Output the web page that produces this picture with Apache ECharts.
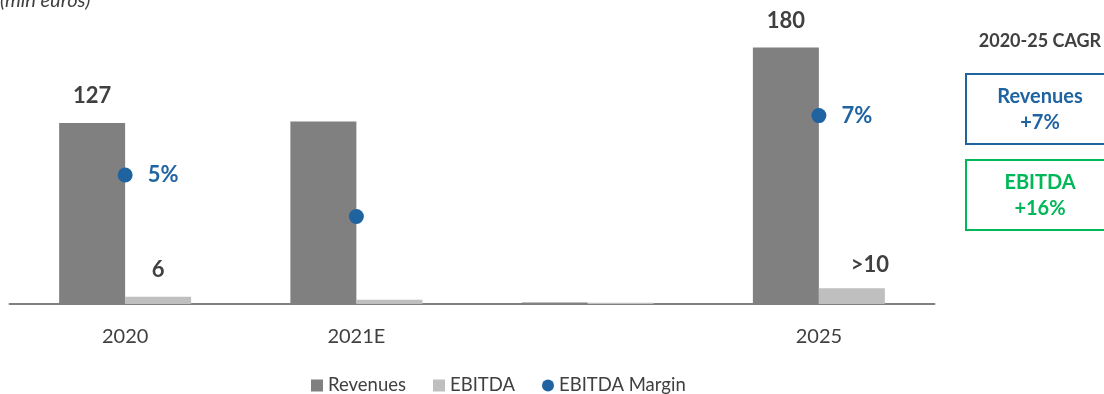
<!DOCTYPE html>
<html>
<head>
<meta charset="utf-8">
<script src="https://cdn.jsdelivr.net/npm/echarts@6/dist/echarts.min.js"></script>
<style>
  html, body { margin: 0; padding: 0; background: #fff; }
  #chart { width: 1104px; height: 394px; }
</style>
</head>
<body>
<div id="chart"></div>
<script>
// 类目和数值
const categories = ['2020', '2021E', '', '2025']
const revenues = [127, 128, 1, 180]
const ebitda = [5, 3, 0.8, 11]
const ebitdaMargin = [5, 3.6, null, 7]

const revenueLabels = ['127', '', '', '180']
const ebitdaLabels = ['6', '', '', '>10']
const marginLabels = ['5%', '', '', '7%']

const cagrTitle = '2020-25 CAGR'
const cagrRevenues = ['Revenues', '+7%']
const cagrEbitda = ['EBITDA', '+16%']

const font = 'Lato, "Open Sans", sans-serif'
const grey = '#404040'
const blue = '#1F63A0'
const green = '#00B858'

const chart = echarts.init(document.getElementById('chart'))

const labelStyle = {
  show: true,
  position: 'top',
  distance: 16,
  fontFamily: font,
  fontWeight: 'bold',
  fontSize: 22,
  color: grey
}

chart.setOption({
  animation: false,
  textStyle: { fontFamily: font },
  grid: {
    left: 9.5,
    right: 169.5,
    top: 18.9,
    bottom: 90
  },
  legend: {
    left: 311,
    top: 376,
    padding: 0,
    itemWidth: 12,
    itemHeight: 12,
    itemGap: 27,
    textStyle: { fontFamily: font, fontSize: 18.5, color: grey },
    data: [
      { name: 'Revenues', icon: 'rect' },
      { name: 'EBITDA', icon: 'rect' },
      { name: 'EBITDA Margin', icon: 'circle', itemStyle: { opacity: 1 } }
    ]
  },
  xAxis: {
    type: 'category',
    data: categories,
    axisTick: { show: false },
    axisLine: {
      lineStyle: { color: '#808080', width: 2 }
    },
    axisLabel: {
      margin: 23,
      fontSize: 20,
      color: grey
    }
  },
  yAxis: [
    { type: 'value', min: 0, max: 200, show: false },
    { type: 'value', min: 0.65, max: 10.26, show: false }
  ],
  series: [
    {
      name: 'Revenues',
      type: 'bar',
      barWidth: 66,
      barGap: '0%',
      itemStyle: { color: '#808080' },
      data: revenues.map((v, i) => ({
        value: v,
        label: { ...labelStyle, show: revenueLabels[i] !== '', formatter: revenueLabels[i] }
      }))
    },
    {
      name: 'EBITDA',
      type: 'bar',
      barWidth: 66,
      itemStyle: { color: '#BFBFBF' },
      data: ebitda.map((v, i) => ({
        value: v,
        label: {
          ...labelStyle,
          show: ebitdaLabels[i] !== '',
          formatter: ebitdaLabels[i],
          // 2025 的标签偏右
          offset: i === 3 ? [18, 4] : [0, 0]
        }
      }))
    },
    {
      name: 'EBITDA Margin',
      type: 'scatter',
      yAxisIndex: 1,
      symbolSize: 15,
      itemStyle: { color: blue, opacity: 1 },
      data: ebitdaMargin.map((v, i) => ({
        value: v,
        label: {
          show: marginLabels[i] !== '',
          formatter: marginLabels[i],
          position: 'right',
          distance: 15,
          fontFamily: font,
          fontWeight: 'bold',
          fontSize: 22,
          color: blue,
          opacity: 1
        }
      }))
    }
  ],
  graphic: [
    {
      type: 'text',
      left: 0,
      top: -9,
      style: {
        text: '(mln euros)',
        fontFamily: font,
        fontStyle: 'italic',
        fontSize: 20,
        fill: grey
      }
    },
    {
      type: 'text',
      x: 1040,
      y: 41,
      style: {
        text: cagrTitle,
        align: 'center',
        verticalAlign: 'middle',
        fontFamily: font,
        fontWeight: 'bold',
        fontSize: 18,
        fill: grey
      }
    },
    {
      type: 'rect',
      shape: { x: 966, y: 74, width: 148, height: 70 },
      style: { fill: 'none', stroke: blue, lineWidth: 2 }
    },
    {
      type: 'text',
      x: 1040,
      y: 110,
      style: {
        text: cagrRevenues.join('\n'),
        align: 'center',
        verticalAlign: 'middle',
        lineHeight: 26,
        fontFamily: font,
        fontWeight: 'bold',
        fontSize: 20,
        fill: blue
      }
    },
    {
      type: 'rect',
      shape: { x: 966, y: 160, width: 148, height: 70 },
      style: { fill: 'none', stroke: green, lineWidth: 2 }
    },
    {
      type: 'text',
      x: 1040,
      y: 196,
      style: {
        text: cagrEbitda.join('\n'),
        align: 'center',
        verticalAlign: 'middle',
        lineHeight: 26,
        fontFamily: font,
        fontWeight: 'bold',
        fontSize: 20,
        fill: green
      }
    }
  ]
})
</script>
</body>
</html>
